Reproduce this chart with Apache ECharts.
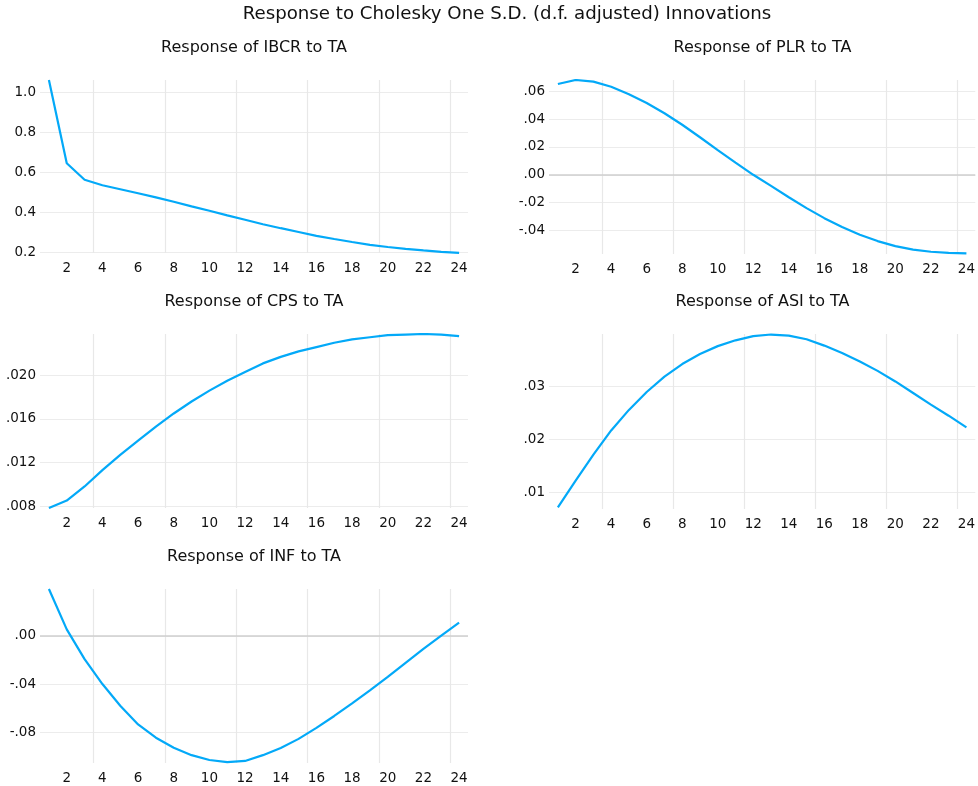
<!DOCTYPE html>
<html><head><meta charset="utf-8">
<script src="https://cdn.jsdelivr.net/npm/echarts@6/dist/echarts.min.js"></script>
<style>html,body{margin:0;padding:0;background:#fff}#c{width:978px;height:786px}</style>
</head><body><div id="c"></div><script>
const periods = [1,2,3,4,5,6,7,8,9,10,11,12,13,14,15,16,17,18,19,20,21,22,23,24];
const ibcr = [1.06,0.644,0.561,0.534,0.514,0.494,0.473,0.451,0.428,0.406,0.383,0.361,0.339,0.319,0.300,0.281,0.265,0.250,0.236,0.225,0.216,0.208,0.201,0.196];
const plr = [0.0653,0.0682,0.0670,0.0633,0.0580,0.0517,0.0443,0.0360,0.0270,0.0178,0.0088,0.0000,-0.0080,-0.0162,-0.0240,-0.0312,-0.0376,-0.0431,-0.0477,-0.0513,-0.0538,-0.0554,-0.0562,-0.0565];
const cps = [0.00782,0.0085,0.0098,0.0113,0.0127,0.0140,0.0153,0.0165,0.0176,0.0186,0.0195,0.0203,0.0211,0.0217,0.0222,0.0226,0.0230,0.0233,0.0235,0.0237,0.02375,0.0238,0.02375,0.0236];
const asi = [0.0071,0.0122,0.0171,0.0217,0.0256,0.0290,0.0319,0.0343,0.0362,0.0377,0.0388,0.0396,0.0399,0.0397,0.0390,0.0378,0.0364,0.0348,0.0330,0.0310,0.0288,0.0266,0.0245,0.0223];
const inf = [0.0388,0.0053,-0.0194,-0.0400,-0.0580,-0.0735,-0.0845,-0.0928,-0.0990,-0.1030,-0.1048,-0.1038,-0.0990,-0.0930,-0.0855,-0.0764,-0.0665,-0.0560,-0.0452,-0.0340,-0.0224,-0.0108,0.0002,0.0110];

const xLabelTicks = [2,4,6,8,10,12,14,16,18,20,22,24];
const xGridTicks = [3.5,7.5,11.5,15.5,19.5,23.5];
const ibcrTicks = [0.2,0.4,0.6,0.8,1.0];
const ibcrLabels = ['0.2','0.4','0.6','0.8','1.0'];
const plrTicks = [-0.04,-0.02,0,0.02,0.04,0.06];
const plrLabels = ['-.04','-.02','.00','.02','.04','.06'];
const cpsTicks = [0.008,0.012,0.016,0.020];
const cpsLabels = ['.008','.012','.016','.020'];
const asiTicks = [0.01,0.02,0.03];
const asiLabels = ['.01','.02','.03'];
const infTicks = [-0.08,-0.04,0];
const infLabels = ['-.08','-.04','.00'];

const mainTitle = 'Response to Cholesky One S.D. (d.f. adjusted) Innovations';

const panels = [
  {title:'Response of IBCR to TA', data:ibcr, ticks:ibcrTicks, labels:ibcrLabels, min:0.195, max:1.06, zero:false, grid:{left:40, top:80, width:428, height:173}},
  {title:'Response of PLR to TA', data:plr, ticks:plrTicks, labels:plrLabels, min:-0.057, max:0.0682, zero:true, grid:{left:549, top:80, width:427, height:174}},
  {title:'Response of CPS to TA', data:cps, ticks:cpsTicks, labels:cpsLabels, min:0.00782, max:0.0238, zero:false, grid:{left:40, top:334, width:428, height:174}},
  {title:'Response of ASI to TA', data:asi, ticks:asiTicks, labels:asiLabels, min:0.0068, max:0.0400, zero:false, grid:{left:549, top:334, width:427, height:175}},
  {title:'Response of INF to TA', data:inf, ticks:infTicks, labels:infLabels, min:-0.1055, max:0.0388, zero:true, grid:{left:40, top:589, width:428, height:174}}
];

const FONT = '"DejaVu Sans", "Open Sans", sans-serif';
const grids = [], xAxes = [], yAxes = [], series = [], graphics = [];
graphics.push({type:'text', x:507, y:14, style:{text:mainTitle, fontSize:18.2, fontFamily:FONT, fill:'#111', align:'center', verticalAlign:'middle'}});
panels.forEach((p, i) => {
  grids.push(Object.assign({containLabel:false}, p.grid));
  graphics.push({type:'text', x:p.grid.left + p.grid.width/2, y:p.grid.top - 32, style:{text:p.title, fontSize:16, fontFamily:FONT, fill:'#111', align:'center', verticalAlign:'middle'}});
  xAxes.push({
    type:'value', gridIndex:i, min:0.5, max:24.5,
    axisLine:{show:false}, axisTick:{show:false, customValues:xGridTicks},
    axisLabel:{customValues:xLabelTicks, fontSize:13.5, fontFamily:FONT, color:'#111', margin:8},
    splitLine:{show:true, lineStyle:{color:'#e8e8e8', width:1.2}}
  });
  yAxes.push({
    type:'value', gridIndex:i, min:p.min, max:p.max,
    axisLine:{show:false}, axisTick:{show:false, customValues:p.ticks},
    axisLabel:{customValues:p.ticks, fontSize:13.5, fontFamily:FONT, color:'#111', margin:4,
      formatter:(v) => { let best = 0; p.ticks.forEach((t, k) => { if (Math.abs(t - v) < Math.abs(p.ticks[best] - v)) best = k; }); return p.labels[best]; }},
    splitLine:{show:true, lineStyle:{color:'#ececec', width:1.2}}
  });
  const s = {
    type:'line', xAxisIndex:i, yAxisIndex:i,
    data: periods.map((x, k) => [x, p.data[k]]),
    showSymbol:false, symbol:'none', smooth:false,
    lineStyle:{color:'#03a9f8', width:2.2}, itemStyle:{color:'#03a9f8'}, z:3
  };
  if (p.zero) {
    s.markLine = {silent:true, symbol:'none', label:{show:false}, z:1,
      lineStyle:{color:'#cfcfcf', width:1.6, type:'solid'}, data:[{yAxis:0}]};
  }
  series.push(s);
});

const chart = echarts.init(document.getElementById('c'), null, {renderer:'canvas'});
chart.setOption({animation:false, backgroundColor:'#fff', grid:grids, xAxis:xAxes, yAxis:yAxes, series:series, graphic:graphics});
</script></body></html>
